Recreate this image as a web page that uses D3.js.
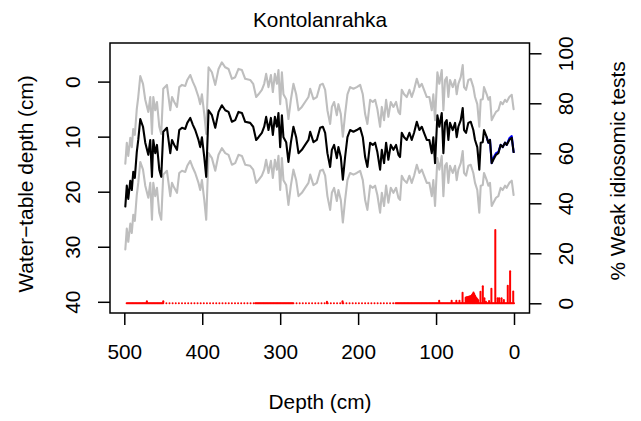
<!DOCTYPE html>
<html><head><meta charset="utf-8">
<script src="https://cdn.jsdelivr.net/npm/d3@7"></script>
<style>html,body{margin:0;padding:0;background:#fff;}svg{display:block;}text{font-family:"Liberation Sans",Arial,Helvetica,sans-serif;fill:#000;}</style>
</head><body><div id="chart"></div>
<script>
// ---- data ----
const sampleDepth = [
498.7,496.8,494.9,492.3,490.4,488.5,486.5,484.0,482.1,479.5,
476.0,473.1,469.2,466.7,464.5,462.8,460.3,458.1,455.1,452.6,
450.0,445.3,441.0,438.8,435.9,432.4,429.5,426.0,421.8,419.2,
415.4,411.9,409.0,404.8,402.6,400.4,397.4,394.9,391.9,387.6,
383.3,379.1,374.8,370.5,366.3,361.9,357.7,353.5,349.1,344.9,
338.5,334.6,330.8,327.8,323.5,320.5,318.0,315.0,311.9,309.4,
306.8,304.2,302.2,300.0,297.8,295.8,292.3,289.4,286.3,283.0,
279.5,276.5,272.2,268.0,263.7,261.5,257.3,253.0,248.7,245.3,
242.3,239.4,235.9,233.7,230.8,227.3,225.3,222.2,219.6,216.7,
213.7,210.3,206.0,201.7,197.4,194.0,191.0,188.1,184.6,181.2,
178.2,175.3,171.8,169.6,166.7,164.1,161.2,158.1,154.7,151.3,
148.3,146.2,144.0,141.0,137.6,134.2,131.2,128.2,124.7,121.4,
118.3,115.4,111.9,108.6,105.5,103.5,101.3,98.3,95.8,92.7,
90.6,88.5,86.3,84.2,82.1,78.6,75.6,73.5,71.4,68.3,
65.8,64.1,61.5,58.6,55.5,52.2,50.0,47.1,44.5,42.7,
40.1,38.5,35.0,32.9,30.8,28.6,26.5,23.1,20.1,17.1,
14.5,11.5,9.4,6.0,2.9,0.5];
const wtdMean = [
22.7,18.9,21.3,18.0,19.7,16.4,17.5,12.8,10.6,6.8,
8.2,11.1,13.3,10.6,17.3,10.6,13.0,11.5,16.0,17.3,
9.1,8.4,13.0,10.6,11.5,12.4,8.8,8.4,8.6,7.5,
6.6,7.9,8.8,10.6,11.9,10.1,13.7,17.3,5.2,6.1,
8.4,5.5,4.3,5.2,5.5,7.3,7.0,5.5,5.7,7.3,
7.5,8.2,10.6,10.1,9.3,8.2,6.4,8.8,6.6,9.7,
6.4,8.2,5.7,11.9,6.1,10.1,11.0,14.6,11.1,8.2,
10.1,13.0,12.4,11.5,10.6,9.1,11.0,10.6,8.4,8.2,
9.3,13.0,15.5,12.4,11.5,13.9,11.9,13.7,17.8,13.7,
10.1,8.8,9.1,8.8,8.4,10.1,13.7,15.5,11.1,11.5,
11.1,12.8,16.0,12.4,14.8,11.1,14.2,11.5,12.4,11.5,
13.3,13.7,9.3,10.1,10.6,9.3,10.6,9.3,7.3,8.8,
8.2,9.3,10.6,10.6,13.0,10.1,14.8,6.1,8.2,5.7,
13.0,7.5,7.0,10.6,7.5,8.8,7.5,10.1,8.2,7.0,
4.8,8.8,9.3,7.5,7.3,8.8,10.6,11.9,16.0,11.1,
11.0,8.8,10.1,11.1,10.6,14.8,14.2,13.3,13.0,11.5,
11.9,11.1,11.5,10.6,10.2,12.8];
const wtdUpper = [
14.9,11.1,13.5,10.2,11.9,8.6,9.7,5.0,2.8,-1.0,
0.4,3.3,5.5,2.8,9.5,2.8,5.2,3.7,8.2,9.5,
1.3,0.6,5.2,2.8,3.7,4.6,1.0,0.6,0.8,-0.3,
-1.2,0.1,1.0,2.8,4.1,2.3,5.9,9.5,-2.6,-1.7,
0.6,-2.3,-3.5,-2.6,-2.3,-0.5,-0.8,-2.3,-2.1,-0.5,
-0.3,0.4,2.8,2.3,1.5,0.4,-1.4,1.0,-1.2,1.9,
-1.4,0.4,-2.1,4.1,-1.7,2.3,3.2,6.8,3.3,0.4,
2.3,5.2,4.6,3.7,2.8,1.3,3.2,2.8,0.6,0.4,
1.5,5.2,7.7,4.6,3.7,6.1,4.1,5.9,10.0,5.9,
2.3,1.0,1.3,1.0,0.6,2.3,5.9,7.7,3.3,3.7,
3.3,5.0,8.2,4.6,7.0,3.3,6.4,3.7,4.6,3.7,
5.5,5.9,1.5,2.3,2.8,1.5,2.8,1.5,-0.5,1.0,
0.4,1.5,2.8,2.8,5.2,2.3,7.0,-1.7,0.4,-2.1,
5.2,-0.3,-0.8,2.8,-0.3,1.0,-0.3,2.3,0.4,-0.8,
-3.0,1.0,1.5,-0.3,-0.5,1.0,2.8,4.1,8.2,3.3,
3.2,1.0,2.3,3.3,2.8,7.0,6.4,5.5,5.2,3.7,
4.1,3.3,3.7,2.8,2.4,5.0];
const wtdLower = [
30.5,26.7,29.1,25.8,27.5,24.2,25.3,20.6,18.4,14.6,
16.0,18.9,21.1,18.4,25.1,18.4,20.8,19.3,23.8,25.1,
16.9,16.2,20.8,18.4,19.3,20.2,16.6,16.2,16.4,15.3,
14.4,15.7,16.6,18.4,19.7,17.9,21.5,25.1,13.0,13.9,
16.2,13.3,12.1,13.0,13.3,15.1,14.8,13.3,13.5,15.1,
15.3,16.0,18.4,17.9,17.1,16.0,14.2,16.6,14.4,17.5,
14.2,16.0,13.5,19.7,13.9,17.9,18.8,22.4,18.9,16.0,
17.9,20.8,20.2,19.3,18.4,16.9,18.8,18.4,16.2,16.0,
17.1,20.8,23.3,20.2,19.3,21.7,19.7,21.5,25.6,21.5,
17.9,16.6,16.9,16.6,16.2,17.9,21.5,23.3,18.9,19.3,
18.9,20.6,23.8,20.2,22.6,18.9,22.0,19.3,20.2,19.3,
21.1,21.5,17.1,17.9,18.4,17.1,18.4,17.1,15.1,16.6,
16.0,17.1,18.4,18.4,20.8,17.9,22.6,13.9,16.0,13.5,
20.8,15.3,14.8,18.4,15.3,16.6,15.3,17.9,16.0,14.8,
12.6,16.6,17.1,15.3,15.1,16.6,18.4,19.7,23.8,18.9,
18.8,16.6,17.9,18.9,18.4,22.6,22.0,21.1,20.8,19.3,
19.7,18.9,19.3,18.4,18.0,20.6];
const blueDepth = [35.0,32.9,30.8,28.6,26.5,23.1,20.1,17.1,14.5,11.5,9.4,6.0,2.9,0.5];
const blueWtd   = [10.1,11.1,10.6,14.8,13.9,13.0,12.8,11.5,11.9,11.1,11.5,10.3,9.9,12.8];
// weak idiosomic tests: counted levels with 0 % (runs of sampled depths) and levels with values
const zeroRunStart = [497, 450, 332, 283, 152];
const zeroRunEnd   = [451, 333, 284, 153, 0];
const zeroRunStep  = [1, 4, 1, 4, 1];
const weakDepth = [471,450,240,220,96,80,74,70,66,62,61,60,59,58,57,56,55,54,53,52,51,50,49,48,47,46,43,40,38,36,32,29,24,21,19,16,13,8,5,1];
const weakPct   = [0.8,0.8,0.6,0.8,1,1,1,1,4.2,2.2,2.4,2.4,2.5,2.6,2.7,2.8,2.9,3.3,3.7,4.3,3.7,3,2.4,2,1.6,1.2,4.6,6.8,2,0.6,0.9,5.8,29.3,2,2,2,1.3,7,12.8,4.7];
const xTicks = [500, 400, 300, 200, 100, 0];
const yLeftTicks = [0, 10, 20, 30, 40];
const yRightTicks = [0, 20, 40, 60, 80, 100];

// ---- drawing ----
const W = 641, H = 421;
const box = {l: 110, r: 529.5, t: 43, b: 313};
const FS = 20.8;
const svg = d3.select("#chart").append("svg").attr("width", W).attr("height", H);
svg.append("rect").attr("width", W).attr("height", H).attr("fill", "#fff");

const x = d3.scaleLinear().domain([500, 0]).range([124.3, 514]);
const yL = d3.scaleLinear().domain([0, 40]).range([81.6, 301.8]);
const yR = d3.scaleLinear().domain([0, 100]).range([303.3, 53.3]);

const g = svg.append("g");
const mk = (dep, val) => dep.map((d, i) => ({d, v: val[i]}));
const line = d3.line().x(p => x(p.d)).y(p => yL(p.v));

[wtdUpper, wtdLower].forEach(arr => {
  g.append("path").datum(mk(sampleDepth, arr)).attr("d", line)
    .attr("fill", "none").attr("stroke", "#BEBEBE").attr("stroke-width", 2.1)
    .attr("stroke-linejoin", "round").attr("stroke-linecap", "round");
});
g.append("path").datum(mk(blueDepth, blueWtd)).attr("d", line)
  .attr("fill", "none").attr("stroke", "#0000FF").attr("stroke-width", 2.1)
  .attr("stroke-linejoin", "round").attr("stroke-linecap", "round");
g.append("path").datum(mk(sampleDepth, wtdMean)).attr("d", line)
  .attr("fill", "none").attr("stroke", "#000").attr("stroke-width", 2.1)
  .attr("stroke-linejoin", "round").attr("stroke-linecap", "round");

// weak tests series
const weakMap = new Map(weakDepth.map((d, i) => [d, weakPct[i]]));
const depSet = new Set(weakDepth);
zeroRunStart.forEach((s, i) => {
  for (let d = s; d >= zeroRunEnd[i]; d -= zeroRunStep[i]) depSet.add(d);
});
const weakData = Array.from(depSet).sort((a, b) => b - a).map(d => ({d, v: weakMap.get(d) || 0}));
g.selectAll("path.weak").data(weakData).enter().append("path").attr("class", "weak")
  .attr("d", p => `M${x(p.d)},${yR(0)}L${x(p.d)},${yR(p.v)}`)
  .attr("stroke", "#FF0000").attr("stroke-width", 2).attr("stroke-linecap", "round").attr("fill", "none");

// box
svg.append("rect").attr("x", box.l).attr("y", box.t).attr("width", box.r - box.l).attr("height", box.b - box.t)
  .attr("fill", "none").attr("stroke", "#000").attr("stroke-width", 1.5);

// axes
const TL = 12;
const ax = svg.append("g").attr("transform", `translate(0,${box.b})`)
  .call(d3.axisBottom(x).tickValues(xTicks).tickSize(TL).tickPadding(0).tickFormat(d3.format("d")));
ax.select(".domain").remove();
ax.selectAll(".tick line").attr("stroke", "#000").attr("stroke-width", 1.5);
ax.selectAll(".tick text").attr("y", 359 - box.b).attr("dy", null).style("font-size", FS + "px");

const al = svg.append("g").attr("transform", `translate(${box.l},0)`)
  .call(d3.axisLeft(yL).tickValues(yLeftTicks).tickSize(TL).tickFormat(d3.format("d")));
al.select(".domain").remove();
al.selectAll(".tick line").attr("stroke", "#000").attr("stroke-width", 1.5);
al.selectAll(".tick text").attr("x", null).attr("dy", null).attr("text-anchor", "middle")
  .attr("transform", `translate(${79.8 - box.l},0) rotate(-90)`).style("font-size", FS + "px");

const ar = svg.append("g").attr("transform", `translate(${box.r},0)`)
  .call(d3.axisRight(yR).tickValues(yRightTicks).tickSize(TL).tickFormat(d3.format("d")));
ar.select(".domain").remove();
ar.selectAll(".tick line").attr("stroke", "#000").attr("stroke-width", 1.5);
ar.selectAll(".tick text").attr("x", null).attr("dy", null).attr("text-anchor", "middle")
  .attr("transform", `translate(${573 - box.r},0) rotate(-90)`).style("font-size", FS + "px");

svg.selectAll(".tick text").attr("fill", "#000").style("font-family", "'Liberation Sans',Arial,Helvetica,sans-serif");

// titles
svg.append("text").attr("x", 320).attr("y", 27.3).attr("text-anchor", "middle").style("font-size", FS + "px").text("Kontolanrahka");
svg.append("text").attr("x", 320).attr("y", 409).attr("text-anchor", "middle").style("font-size", FS + "px").text("Depth (cm)");
svg.append("text").attr("transform", "translate(33,184) rotate(-90)").attr("text-anchor", "middle").style("font-size", FS + "px").text("Water\u2212table depth (cm)");
svg.append("text").attr("transform", "translate(625,171) rotate(-90)").attr("text-anchor", "middle").style("font-size", FS + "px").text("% Weak idiosomic tests");
</script></body></html>
